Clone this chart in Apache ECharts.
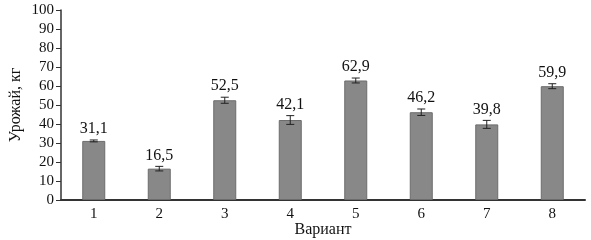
<!DOCTYPE html>
<html><head><meta charset="utf-8">
<script src="https://cdn.jsdelivr.net/npm/echarts@6/dist/echarts.min.js"></script>
<style>html,body{margin:0;padding:0;background:#fff}#c{width:591px;height:240px}</style>
</head><body><div id="c"></div>
<script>
const categories = ['1','2','3','4','5','6','7','8'];
const values = [31.1, 16.5, 52.5, 42.1, 62.9, 46.2, 39.8, 59.9];
const errors = [0.5, 1.2, 1.6, 2.3, 1.3, 1.7, 2.1, 1.3];
const yTicks = [0,10,20,30,40,50,60,70,80,90,100];

const font = 'Liberation Serif';
const chart = echarts.init(document.getElementById('c'));
chart.setOption({
  animation: false,
  grid: {left: 61, right: 6, top: 10, bottom: 40, outerBoundsMode: 'none', containLabel: false},
  xAxis: {
    type: 'category', data: categories,
    name: 'Вариант', nameLocation: 'middle', nameGap: 22, nameMoveOverlap: false,
    nameTextStyle: {fontFamily: font, fontSize: 16, color: '#111'},
    axisLine: {lineStyle: {color: '#333', width: 2}},
    axisTick: {show: false},
    axisLabel: {fontFamily: font, fontSize: 15, color: '#111', margin: 7}
  },
  yAxis: {
    type: 'value', min: yTicks[0], max: yTicks[yTicks.length-1], interval: 10,
    name: 'Урожай, кг', nameLocation: 'middle', nameGap: 37, nameRotate: 90, nameMoveOverlap: false,
    nameTextStyle: {fontFamily: font, fontSize: 16, color: '#111'},
    axisLine: {show: true, lineStyle: {color: '#333', width: 1.5}},
    axisTick: {show: true, length: 5, lineStyle: {color: '#333'}},
    splitLine: {show: false},
    axisLabel: {fontFamily: font, fontSize: 15, color: '#111', margin: 7}
  },
  series: [
    {
      type: 'bar', data: values, barWidth: 23,
      itemStyle: {color: '#888888', borderColor: '#6c6c6c', borderWidth: 1}
    },
    {
      type: 'custom',
      data: values.map((v, i) => [i, v, errors[i]]),
      renderItem: function (params, api) {
        const i = api.value(0), v = api.value(1), e = api.value(2);
        const top = api.coord([i, v + e]);
        const bot = api.coord([i, v - e]);
        const x = top[0], hw = 4;
        const st = {stroke: '#222', lineWidth: 1};
        return {
          type: 'group',
          children: [
            {type: 'line', shape: {x1: x, y1: top[1], x2: x, y2: bot[1]}, style: st},
            {type: 'line', shape: {x1: x-hw, y1: top[1], x2: x+hw, y2: top[1]}, style: st},
            {type: 'line', shape: {x1: x-hw, y1: bot[1], x2: x+hw, y2: bot[1]}, style: st},
            {type: 'text', style: {
              text: v.toFixed(1).replace('.', ','), x: x, y: top[1] - 3,
              align: 'center', verticalAlign: 'bottom',
              font: '16px "Liberation Serif"', fill: '#111'
            }}
          ]
        };
      },
      z: 5
    }
  ]
});
</script>
</body></html>
